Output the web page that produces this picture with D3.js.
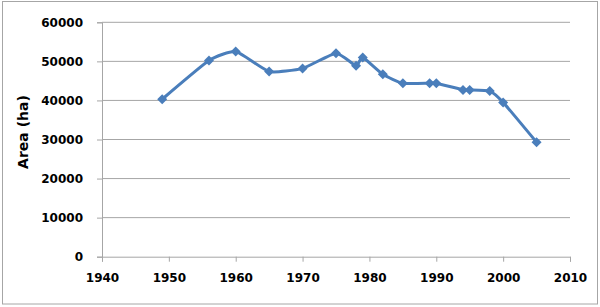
<!DOCTYPE html>
<html>
<head>
<meta charset="utf-8">
<script src="https://cdn.jsdelivr.net/npm/d3@7"></script>
<style>
  body { margin: 0; background: #fff; }
  text { font-family: "DejaVu Sans", sans-serif; font-weight: bold; fill: #000; }
</style>
</head>
<body>
<div id="chart"></div>
<script>
const width = 600;
const height = 307;

// data
const years = [1949, 1956, 1960, 1965, 1970, 1975, 1978, 1979, 1982, 1985, 1989, 1990, 1994, 1995, 1998, 2000, 2005];
const area = [40300, 50200, 52500, 47400, 48200, 52100, 48900, 51000, 46700, 44400, 44400, 44400, 42700, 42700, 42400, 39500, 29300];
const xTicks = [1940, 1950, 1960, 1970, 1980, 1990, 2000, 2010];
const yTicks = [0, 10000, 20000, 30000, 40000, 50000, 60000];

const blue = '#4a7ebb';
const grey = '#a6a6a6';

const svg = d3.select("#chart")
    .append("svg")
    .attr("width", width)
    .attr("height", height);

// outer chart border
svg.append("rect")
    .attr("x", 2.5).attr("y", 1.5)
    .attr("width", 595).attr("height", 302.5)
    .attr("fill", "none")
    .attr("stroke", grey);

const x = d3.scaleLinear().domain([1940, 2010]).range([102, 570]);
const y = d3.scaleLinear().domain([0, 60000]).range([256.7, 22.3]);

// gridlines
svg.selectAll(".grid")
    .data(yTicks.filter(d => d > 0))
    .join("line")
    .attr("class", "grid")
    .attr("x1", x(1940)).attr("x2", x(2010))
    .attr("y1", d => y(d)).attr("y2", d => y(d))
    .attr("stroke", grey);

const yAxis = svg.append("g")
    .attr("transform", `translate(${x(1940)},0)`)
    .call(d3.axisLeft(y).tickValues(yTicks).tickSize(5).tickPadding(14).tickFormat(d3.format("d")));

const xAxis = svg.append("g")
    .attr("transform", `translate(0,${y(0)})`)
    .call(d3.axisBottom(x).tickValues(xTicks).tickSize(5).tickPadding(12).tickFormat(d3.format("d")));

[yAxis, xAxis].forEach(g => {
    g.select(".domain").attr("stroke", grey);
    g.selectAll(".tick line").attr("stroke", grey);
    g.selectAll("text")
        .style("font-family", '"DejaVu Sans", sans-serif')
        .style("font-weight", "bold")
        .style("font-size", "12px")
        .attr("fill", "#000");
});

svg.append("text")
    .attr("transform", "translate(28,132) rotate(-90)")
    .attr("text-anchor", "middle")
    .style("font-size", "14px")
    .text("Area (ha)");

const points = years.map((d, i) => [d, area[i]]);

// smoothed line, like the spreadsheet's
const line = d3.line()
    .x(d => x(d[0]))
    .y(d => y(d[1]))
    .curve(d3.curveCardinal.tension(0.5));

svg.append("path")
    .datum(points)
    .attr("d", line)
    .attr("fill", "none")
    .attr("stroke", blue)
    .attr("stroke-width", 3)
    .attr("stroke-linejoin", "round");

svg.selectAll(".marker")
    .data(points)
    .join("path")
    .attr("class", "marker")
    .attr("transform", d => `translate(${x(d[0])},${y(d[1])})`)
    .attr("d", "M0,-5L5,0L0,5L-5,0Z")
    .attr("fill", blue);
</script>
</body>
</html>
